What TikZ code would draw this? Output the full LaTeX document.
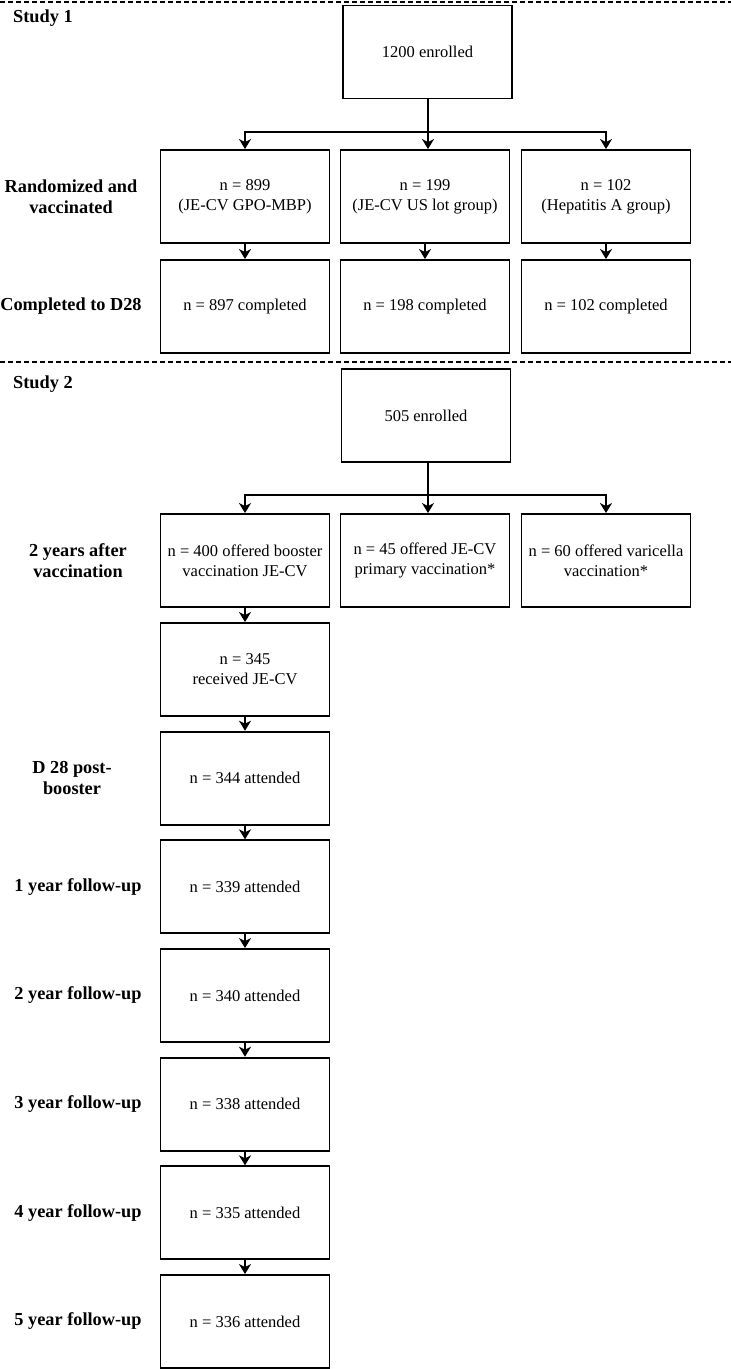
\documentclass[tikz,border=0pt]{standalone}
\usepackage{fontspec}
\setmainfont{Liberation Serif}
\usetikzlibrary{arrows.meta}
\begin{document}
\begin{tikzpicture}[x=1pt,y=-1pt,
 box/.style={draw,line width=1.9pt,minimum width=169pt,minimum height=93pt,align=center,inner sep=2pt,font=\fontsize{16.5}{20}\selectfont},
 lbl/.style={align=center,inner sep=0pt,font=\fontsize{18.3}{20.5}\selectfont\bfseries},
 arr/.style={line width=1.8pt,-{Stealth[length=10pt,width=12pt,inset=3pt]}},
 ln/.style={line width=1.8pt},
 sep/.style={line width=2.6pt,dash pattern=on 5pt off 3pt}]
\useasboundingbox (0,0) rectangle (731,1369);
% separators
\draw[sep] (0,2) -- (731,2);
\draw[sep] (0,362) -- (731,362);
% Study 1
\node[lbl,anchor=west] (st1) at (13,18) {Study 1};
\node[box] (e1) at (427.5,52) {1200 enrolled};
\node[box] (r1) at (245,196.5) {n = 899\\(JE-CV GPO-MBP)};
\node[box] (r2) at (425,196.5) {n = 199\\(JE-CV US lot group)};
\node[box] (r3) at (606,196.5) {n = 102\\(Hepatitis A group)};
\node[box] (c1) at (245,306.5) {n = 897 completed};
\node[box] (c2) at (425,306.5) {n = 198 completed};
\node[box] (c3) at (606,306.5) {n = 102 completed};
\node[lbl] (lr) at (71,196.5) {Randomized and\\vaccinated};
\node[lbl] (lc) at (71,306.5) {Completed to D28};
\coordinate (b1) at (428,132);
\draw[ln] (e1.south -| b1) -- (b1);
\draw[arr] (b1) -| (r1.north);
\draw[arr] (b1) -- (b1 |- r2.north);
\draw[arr] (b1) -| (r3.north);
\draw[arr] (r1) -- (c1);
\draw[arr] (r2) -- (c2);
\draw[arr] (r3) -- (c3);
% Study 2
\node[lbl,anchor=west] (st2) at (13,384) {Study 2};
\node[box] (e2) at (426,415.5) {505 enrolled};
\node[box] (s1) at (245,560.5) {n = 400 offered booster\\vaccination JE-CV};
\node[box] (s2) at (425,560.5) {n = 45 offered JE-CV\\primary vaccination*};
\node[box] (s3) at (606,560.5) {n = 60 offered varicella\\vaccination*};
\node[lbl] (l0) at (78,560.5) {2 years after\\vaccination};
\coordinate (b2) at (428,495);
\draw[ln] (e2.south -| b2) -- (b2);
\draw[arr] (b2) -| (s1.north);
\draw[arr] (b2) -- (b2 |- s2.north);
\draw[arr] (b2) -| (s3.north);
\node[box] (k1) at (245,669.5) {n = 345\\received JE-CV};
\node[box] (k2) at (245,778.2) {n = 344 attended};
\node[box] (k3) at (245,886.8) {n = 339 attended};
\node[box] (k4) at (245,995.5) {n = 340 attended};
\node[box] (k5) at (245,1104.2) {n = 338 attended};
\node[box] (k6) at (245,1212.8) {n = 335 attended};
\node[box] (k7) at (245,1321.5) {n = 336 attended};
\node[lbl] (m2) at (72,778.2) {D 28 post-\\booster};
\node[lbl] (m3) at (78,886.8) {1 year follow-up};
\node[lbl] (m4) at (78,995.5) {2 year follow-up};
\node[lbl] (m5) at (78,1104.2) {3 year follow-up};
\node[lbl] (m6) at (78,1212.8) {4 year follow-up};
\node[lbl] (m7) at (78,1321.5) {5 year follow-up};
\draw[arr] (s1) -- (k1);
\draw[arr] (k1) -- (k2);
\draw[arr] (k2) -- (k3);
\draw[arr] (k3) -- (k4);
\draw[arr] (k4) -- (k5);
\draw[arr] (k5) -- (k6);
\draw[arr] (k6) -- (k7);
\end{tikzpicture}
\end{document}
